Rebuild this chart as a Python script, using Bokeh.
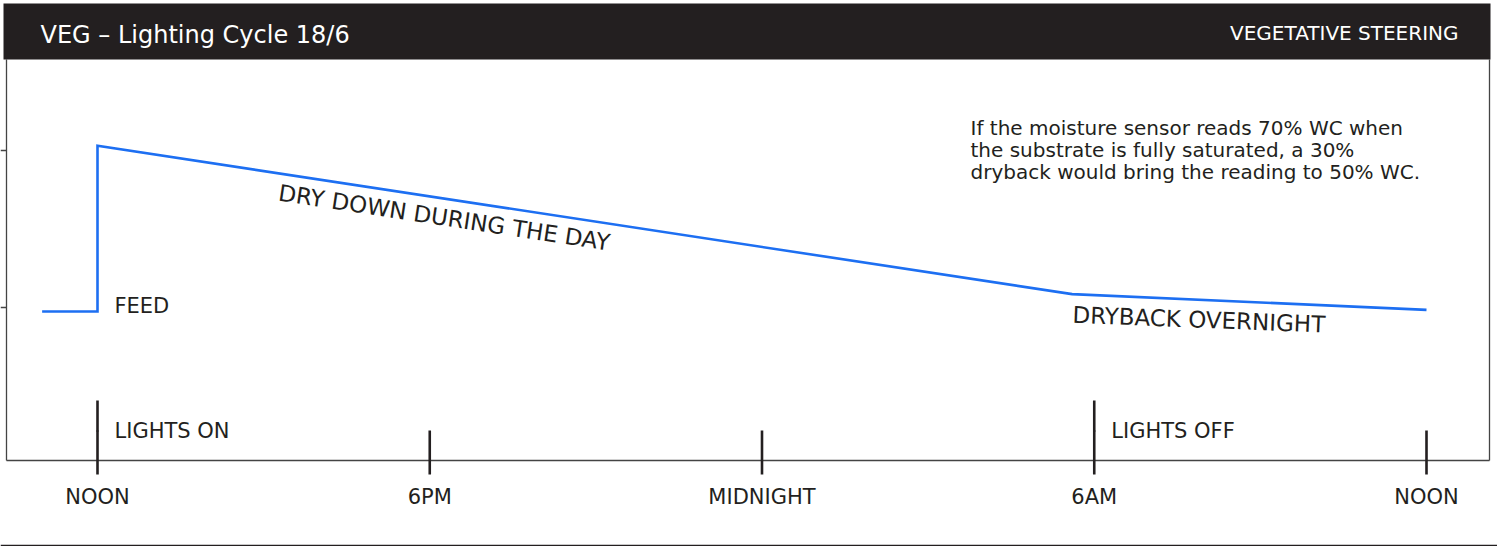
from bokeh.plotting import figure
from bokeh.models import Range1d
from bokeh.core.properties import value
from bokeh.embed import file_html
from bokeh.resources import INLINE
import math

# ---------------- data ----------------
hours = [-1, 0, 0, 17.6, 24]                 # hours after noon
wc = [49.5, 49.5, 70.6, 51.7, 49.7]          # substrate water content (%)
tick_hours = [0, 6, 12, 18, 24]
tick_labels = ["NOON", "6PM", "MIDNIGHT", "6AM", "NOON"]
event_hours = [0, 18]
event_labels = ["LIGHTS ON", "LIGHTS OFF"]
y_ticks = [50, 70]
title_left = "VEG – Lighting Cycle 18/6"
title_right = "VEGETATIVE STEERING"
note_lines = ["If the moisture sensor reads 70% WC when",
              "the substrate is fully saturated, a 30%",
              "dryback would bring the reading to 50% WC."]

# ---------------- layout helpers (pixel -> data) ----------------
W, H = 1497, 546
NOON_PX, PX_PER_H = 97.0, 55.375
Y50_PX, PX_PER_WC = 307.0, 7.85


def dx(px):
    return (px - NOON_PX) / PX_PER_H


def dy(px):
    return 50 + (Y50_PX - px) / PX_PER_WC


def base(px, size):
    # place the rendered baseline at pixel row px
    return dy(px - 0.346 * size)


DARK = "#231f20"
BLUE = "#1d6ff2"
FONT = value("DejaVu Sans")

p = figure(width=W, height=H, x_range=Range1d(dx(0), dx(W)), y_range=Range1d(dy(H), dy(0)),
           x_axis_location=None, y_axis_location=None, toolbar_location=None,
           output_backend="svg", min_border=0, outline_line_color=None,
           background_fill_color="white", border_fill_color="white")
p.xgrid.visible = False
p.ygrid.visible = False

# frame
p.segment(x0=[dx(6), dx(1489), dx(6)], y0=[dy(59), dy(59), dy(460)],
          x1=[dx(6), dx(1489), dx(1489)], y1=[dy(460), dy(460), dy(460)],
          line_color="#444444", line_width=1.3)
# left ticks
p.segment(x0=[dx(0)] * len(y_ticks), x1=[dx(6)] * len(y_ticks), y0=y_ticks, y1=y_ticks,
          line_color="#444444", line_width=1.3)
# bottom separator
p.segment(x0=[dx(0)], x1=[dx(W)], y0=[dy(545)], y1=[dy(545)], line_color=DARK, line_width=1.5)

# header band
p.quad(left=[dx(3)], right=[dx(1490)], top=[dy(3)], bottom=[dy(59)], fill_color=DARK, line_color=None)
p.text(x=[dx(40)], y=[base(43.3, 24)], text=[title_left], text_font=FONT, text_font_size="24px",
       text_color="white", text_baseline="alphabetic", text_align="left")
p.text(x=[dx(1458)], y=[base(39, 20)], text=[title_right], text_font=FONT, text_font_size="20px",
       text_color="white", text_baseline="alphabetic", text_align="right")

# x ticks
p.segment(x0=tick_hours, x1=tick_hours, y0=[dy(474)] * len(tick_hours), y1=[dy(430)] * len(tick_hours),
          line_color=DARK, line_width=2.6)
p.segment(x0=event_hours, x1=event_hours, y0=[dy(431)] * len(event_hours), y1=[dy(400)] * len(event_hours),
          line_color=DARK, line_width=2.6)
p.text(x=tick_hours, y=[base(504, 21)] * len(tick_hours), text=tick_labels, text_font=FONT,
       text_font_size="21px", text_color=DARK, text_align="center", text_baseline="alphabetic")
p.text(x=[h + dx(114) for h in event_hours], y=[base(437.3, 21)] * len(event_hours), text=event_labels,
       text_font=FONT, text_font_size="21px", text_color=DARK, text_align="left", text_baseline="alphabetic")

# moisture line
p.line(hours, wc, line_color=BLUE, line_width=2.6, line_join="miter")

# annotations
p.text(x=[dx(114)], y=[base(312.3, 21)], text=["FEED"], text_font=FONT, text_font_size="21px",
       text_color=DARK, text_align="left", text_baseline="alphabetic")
a1 = math.radians(8.6)
p.text(x=[dx(277 + 0.346 * 23 * math.sin(a1))], y=[base(200, 23)], text=["DRY DOWN DURING THE DAY"],
       text_font=FONT, text_font_size="23px", text_color=DARK, text_align="left",
       text_baseline="alphabetic", angle=-a1)
a2 = math.radians(2.2)
p.text(x=[dx(1072)], y=[base(322.3, 23)], text=["DRYBACK OVERNIGHT"], text_font=FONT,
       text_font_size="23px", text_color=DARK, text_align="left", text_baseline="alphabetic",
       angle=-a2)
p.text(x=[dx(970)] * 3, y=[base(134.3 + 22.2 * i, 20) for i in range(3)], text=note_lines, text_font=FONT,
       text_font_size="20px", text_color=DARK, text_align="left", text_baseline="alphabetic")

open("out.html", "w").write(file_html(p, INLINE))
